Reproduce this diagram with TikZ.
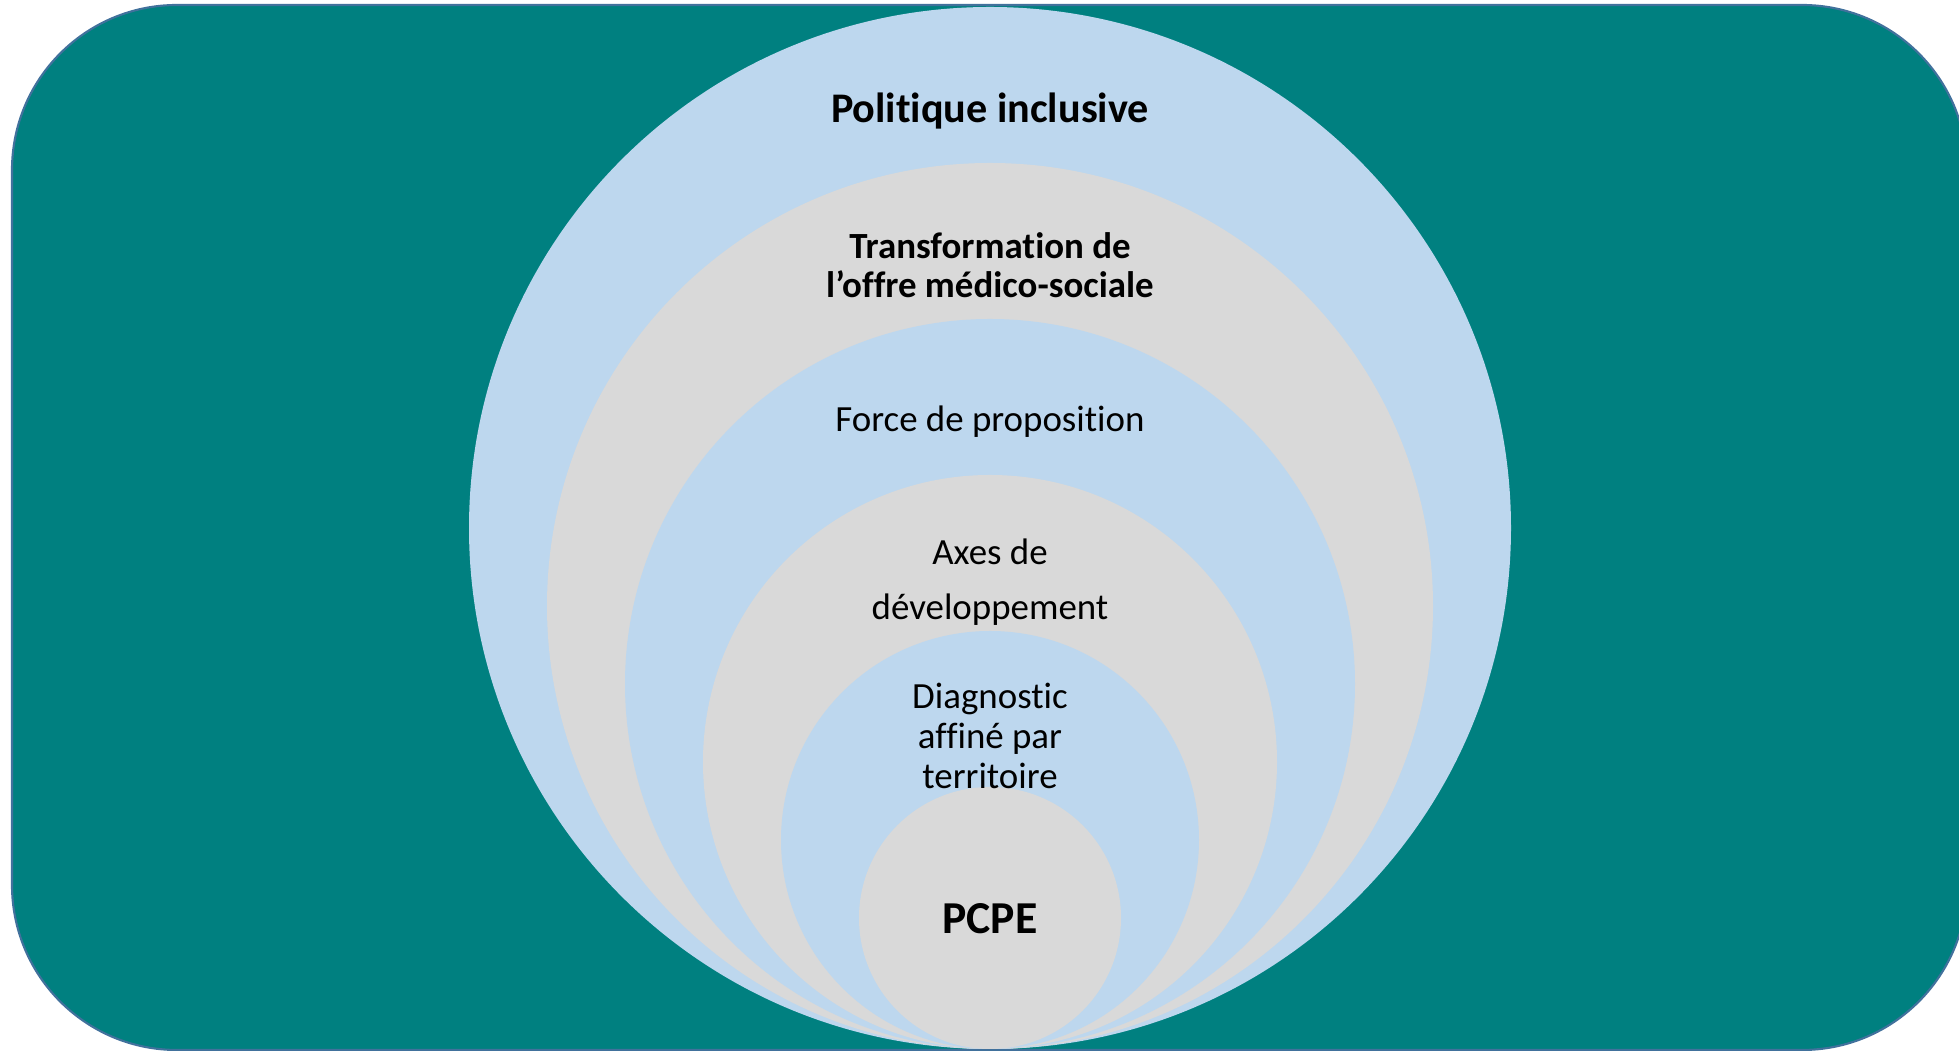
\documentclass[tikz,border=0pt]{standalone}
\usepackage{fontspec}
\setmainfont{Carlito}[Ligatures=NoCommon]
\usetikzlibrary{positioning}
\definecolor{frameteal}{RGB}{0,128,128}
\definecolor{frameline}{RGB}{65,113,156}
\definecolor{ringblue}{RGB}{189,215,238}
\definecolor{ringgrey}{RGB}{217,217,217}

\begin{document}
\begin{tikzpicture}[
  frame/.style={draw=frameline, line width=0.6pt, fill=frameteal, rounded corners=1.65cm},
  ring/.style={circle, draw=none, inner sep=0pt, outer sep=0pt},
  lvl/.style={inner sep=0pt, align=center, text=black, font=\fontsize{10.5}{11.2}\selectfont},
  lvlbold/.style={lvl, font=\fontsize{10.5}{11.1}\selectfont\bfseries}
]
  \useasboundingbox (0,0) rectangle (19.59,10.51);
  \clip (0,0) rectangle (19.59,10.51);

  % background panel
  \draw[frame] (0.12,0.01) rectangle (19.67,10.46);

  % nested rings, all touching at the bottom
  \node[ring, fill=ringblue, minimum size=10.42cm] (ring1) at (9.90,5.23) {};
  \node[ring, fill=ringgrey, minimum size=8.86cm] (ring2) at (9.90,4.45) {};
  \node[ring, fill=ringblue, minimum size=7.30cm] (ring3) at (9.90,3.67) {};
  \node[ring, fill=ringgrey, minimum size=5.74cm] (ring4) at (9.90,2.89) {};
  \node[ring, fill=ringblue, minimum size=4.18cm] (ring5) at (9.90,2.11) {};
  \node[ring, fill=ringgrey, minimum size=2.62cm] (ring6) at (9.90,1.33) {};

  % labels
  \node[lvlbold, font=\fontsize{12}{14}\selectfont\bfseries, anchor=base] (politique) at (9.90,9.28) {Politique inclusive};
  \node[lvlbold] (transfo) at (9.90,7.86) {Transformation de\\l’offre médico-sociale};
  \node[lvl, anchor=base] (force) at (9.90,6.19) {Force de proposition};
  \node[lvl, font=\fontsize{10.5}{15.6}\selectfont] (axes) at (9.90,4.69) {Axes de\\développement};
  \node[lvl, font=\fontsize{10.5}{11.5}\selectfont] (diag) at (9.90,3.15) {Diagnostic\\affiné par\\territoire};
  \node[lvlbold, font=\fontsize{13}{15}\selectfont\bfseries, anchor=base] (pcpe) at (9.90,1.17) {PCPE};
\end{tikzpicture}
\end{document}
